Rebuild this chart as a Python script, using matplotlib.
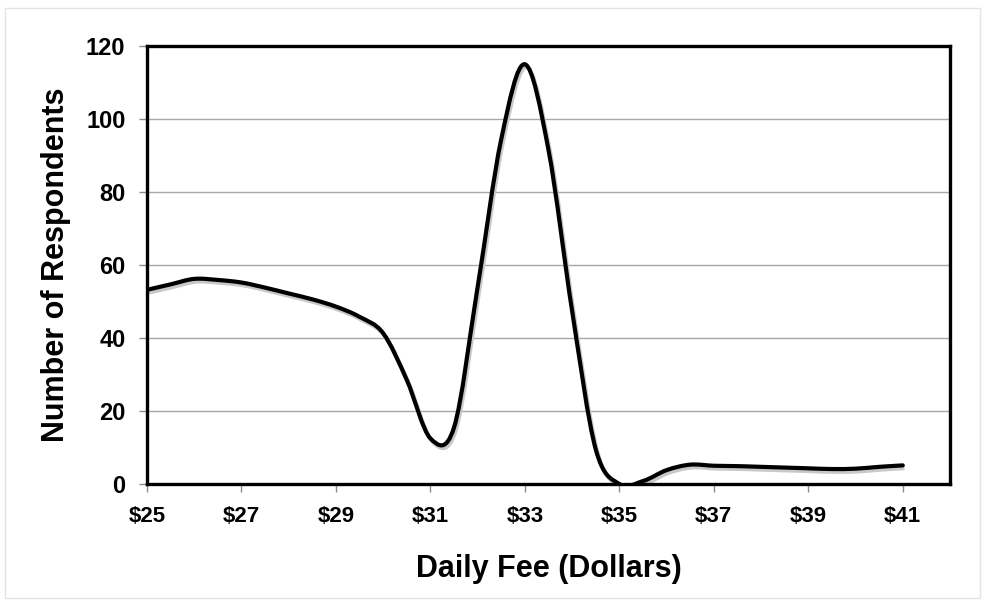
import numpy as np
import matplotlib
matplotlib.use("Agg")
import matplotlib.pyplot as plt
from matplotlib.path import Path
from matplotlib.patches import PathPatch, Rectangle
import matplotlib.transforms as mtransforms

# values every half dollar
fee = [25.0, 25.5, 26.0, 26.5, 27.0, 27.5, 28.0, 28.5, 29.0, 29.5,
       30.0, 30.5, 31.0, 31.5, 32.0, 32.5, 33.0, 33.5, 34.0, 34.5,
       35.0, 35.5, 36.0, 36.5, 37.0, 37.5, 38.0, 38.5, 39.0, 39.5,
       40.0, 40.5, 41.0]
respondents = [53.2, 54.7, 56.2, 55.9, 55.2, 53.8, 52.2, 50.6, 48.6, 45.8,
               41.3, 28.5, 12.5, 15.5, 54.0, 94.5, 115.0, 91.5, 47.4, 9.5,
               0.0, 0.8, 3.8, 5.3, 5.0, 4.9, 4.7, 4.5, 4.3, 4.1,
               4.2, 4.7, 5.1]

xticks = [25, 27, 29, 31, 33, 35, 37, 39, 41]
xtick_labels = ["$%d" % t for t in xticks]
yticks = [0, 20, 40, 60, 80, 100, 120]

FONT = "Liberation Sans"


def smooth_path(xs, ys):
    """Excel-like smoothed line: Catmull-Rom turned into cubic Bezier pieces"""
    pts = np.column_stack([xs, ys])
    ext = np.vstack([pts[0], pts, pts[-1]])
    verts = [pts[0]]
    codes = [Path.MOVETO]
    for i in range(1, len(ext) - 2):
        p0, p1, p2, p3 = ext[i - 1], ext[i], ext[i + 1], ext[i + 2]
        c1 = p1 + (p2 - p0) / 6.0
        c2 = p2 - (p3 - p1) / 6.0
        verts += [c1, c2, p2]
        codes += [Path.CURVE4] * 3
    return Path(verts, codes)


fig = plt.figure(figsize=(9.84, 6.02), dpi=100)
ax = fig.add_axes([147 / 984, 1 - 484 / 602, (950 - 147) / 984, (484 - 46) / 602])

# faint frame round the whole picture
fig.patches.append(Rectangle((5 / 984, 4 / 602), 975 / 984, 590 / 602,
                             transform=fig.transFigure, fill=False,
                             edgecolor="#e4e4e4", lw=1))

path = smooth_path(fee, respondents)
shadow_tr = ax.transData + mtransforms.ScaledTranslation(1.2 / 72, -2.0 / 72, fig.dpi_scale_trans)
ax.add_patch(PathPatch(path, fill=False, edgecolor="#c8c8c8", lw=3.0,
                       transform=shadow_tr, zorder=3))
ax.add_patch(PathPatch(path, fill=False, edgecolor="black", lw=3.0,
                       capstyle="round", joinstyle="round", zorder=4))

ax.set_xlim(25, 42)
ax.set_ylim(0, 120)
ax.set_xticks(xticks)
ax.set_xticklabels(xtick_labels)
ax.set_yticks(yticks)

ax.yaxis.grid(True, color="#a8a8a8", lw=1.0)
ax.set_axisbelow(True)
for sp in ax.spines.values():
    sp.set_linewidth(2.4)
    sp.set_color("black")
    sp.set_zorder(5)

ax.tick_params(axis="both", direction="out", length=5.5, width=1, color="#8c8c8c", pad=10)
ax.tick_params(axis="x", labelsize=16)
ax.tick_params(axis="y", labelsize=17)
for lab in ax.get_xticklabels() + ax.get_yticklabels():
    lab.set_fontfamily(FONT)
    lab.set_fontweight("bold")

ax.set_xlabel("Daily Fee (Dollars)", fontsize=22, fontweight="bold",
              fontfamily=FONT, labelpad=20)
ax.set_ylabel("Number of Respondents", fontsize=22, fontweight="bold",
              fontfamily=FONT, labelpad=11)

fig.savefig("out.png", dpi=100)
